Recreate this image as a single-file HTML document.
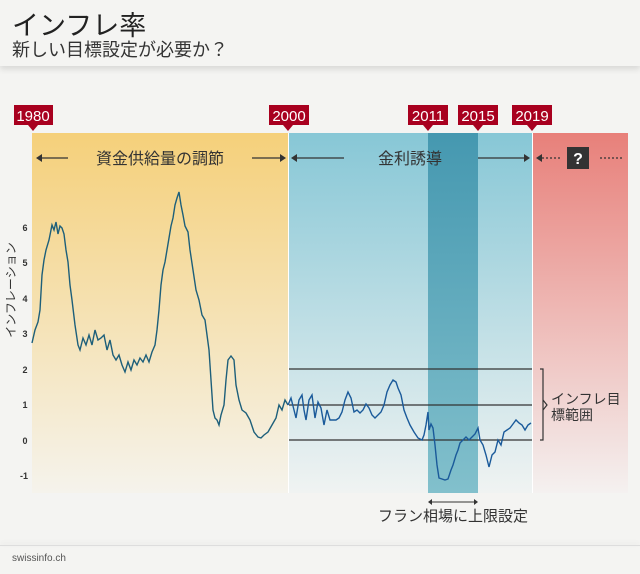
<!DOCTYPE html><html><head><meta charset="utf-8"><style>
body{margin:0;width:640px;height:574px;background:#f4f4f2;font-family:"Liberation Sans","Noto Sans CJK JP",sans-serif;overflow:hidden;position:relative}
.t{position:absolute;color:#333;white-space:nowrap}
</style></head><body>
<div style="position:absolute;left:0;top:0;width:640px;height:66px;background:#f4f4f2;box-shadow:0 3px 6px rgba(0,0,0,0.12)"></div>
<div class="t" style="left:12px;top:4px;font-size:27px;color:#222">インフレ率</div>
<div class="t" style="left:12px;top:36px;font-size:18px;color:#333">新しい目標設定が必要か？</div>
<svg width="640" height="574" style="position:absolute;left:0;top:0">
<defs>
<linearGradient id="gy" x1="0" y1="0" x2="0" y2="1"><stop offset="0" stop-color="#f5d07a"/><stop offset="1" stop-color="#f5f3ec"/></linearGradient>
<linearGradient id="gb" x1="0" y1="0" x2="0" y2="1"><stop offset="0" stop-color="#87c7d6"/><stop offset="1" stop-color="#f0f3f2"/></linearGradient>
<linearGradient id="gd" x1="0" y1="0" x2="0" y2="1"><stop offset="0" stop-color="#4598b0"/><stop offset="1" stop-color="#82c0cc"/></linearGradient>
<linearGradient id="gr" x1="0" y1="0" x2="0" y2="1"><stop offset="0" stop-color="#e8807a"/><stop offset="1" stop-color="#f4f1f0"/></linearGradient>
</defs>
<rect x="32" y="133" width="256" height="360" fill="url(#gy)"/>
<rect x="289" y="133" width="243" height="360" fill="url(#gb)"/>
<rect x="428" y="133" width="50" height="360" fill="url(#gd)"/>
<rect x="533" y="133" width="95" height="360" fill="url(#gr)"/>
<g stroke="#333" stroke-width="1.2">
<line x1="289" y1="369" x2="532" y2="369"/><line x1="289" y1="405" x2="532" y2="405"/><line x1="289" y1="440" x2="532" y2="440"/>
<polyline fill="none" points="540,369 543,369 543,440 540,440"/><polyline fill="none" points="543,400 547,405 543,410"/>
<line x1="38" y1="158" x2="68" y2="158"/><line x1="252" y1="158" x2="284" y2="158"/>
<line x1="294" y1="158" x2="344" y2="158"/><line x1="478" y1="158" x2="528" y2="158"/>
<line x1="538" y1="158" x2="562" y2="158" stroke-dasharray="2,2"/><line x1="600" y1="158" x2="624" y2="158" stroke-dasharray="2,2"/>
<line x1="430" y1="502" x2="476" y2="502" stroke-width="1"/>
</g>
<g fill="#333">
<path d="M36 158l6-4v8z"/><path d="M286 158l-6-4v8z"/><path d="M291 158l6-4v8z"/><path d="M530 158l-6-4v8z"/><path d="M536 158l6-4v8z"/>
<path d="M428 502l4-3v6z"/><path d="M478 502l-4-3v6z"/>
</g>
<line x1="288.5" y1="133" x2="288.5" y2="493" stroke="#fff" stroke-width="1"/>
<line x1="532.5" y1="133" x2="532.5" y2="493" stroke="#fff" stroke-width="1"/>
<polyline fill="none" stroke="#1d5f7a" stroke-width="1.4" points="32,343 35,330 38,322 40,310 42,275 44,260 46,250 49,240 52,225 54,230 56,222 58,234 60,226 62,228 64,234 66,250 68,262 70,285 72,300 75,325 78,345 80,350 83,338 86,345 89,335 92,345 95,330 98,340 101,338 104,335 107,350 110,340 113,355 116,360 119,355 122,365 125,372 128,362 131,370 134,360 137,365 140,358 143,362 146,355 149,362 152,352 155,345 157,330 159,310 161,285 163,270 165,262 167,250 169,238 171,226 173,218 175,205 177,198 179,192 181,205 183,215 185,226 188,232 190,250 193,270 196,290 199,300 202,315 205,320 207,335 209,350 211,380 213,410 215,418 217,420 219,425 221,415 224,405 226,380 228,360 231,356 234,360 236,385 239,400 242,410 246,413 250,420 254,432 258,437 261,438 264,435 268,432 272,425 276,418 279,405 282,410 285,400 288,405"/>
<polyline fill="none" stroke="#1a5a9a" stroke-width="1.4" points="288,405 291,398 294,410 296,418 299,400 302,395 304,410 306,420 309,400 312,395 315,418 318,402 321,408 324,425 327,410 330,420 333,420 336,420 339,418 342,412 345,400 348,392 351,398 354,412 357,410 360,413 363,410 366,404 369,408 372,415 375,418 378,415 381,412 384,405 387,392 390,385 393,380 396,382 398,388 401,395 404,410 407,418 410,425 414,432 418,438 422,440 424,435 426,425 428,412 429,430 431,424 433,428 435,445 437,465 439,478 442,479 445,480 448,479 451,470 453,465 456,455 458,450 460,443 463,440 466,437 469,440 472,437 475,434 478,428 480,440 483,445 486,455 489,467 492,455 495,452 498,440 501,445 504,432 507,430 510,428 513,424 516,420 519,423 522,425 525,430 528,425 531,423"/>
<g fill="#a8001f">
<rect x="14" y="105" width="39" height="20"/><path d="M28 125h10l-5 6z"/>
<rect x="269" y="105" width="40" height="20"/><path d="M283 125h10l-5 6z"/>
<rect x="408" y="105" width="40" height="20"/><path d="M423 125h10l-5 6z"/>
<rect x="458" y="105" width="40" height="20"/><path d="M473 125h10l-5 6z"/>
<rect x="512" y="105" width="40" height="20"/><path d="M527 125h10l-5 6z"/>
</g>
<g fill="#fff" font-size="15" font-family="Liberation Sans,sans-serif" text-anchor="middle">
<text x="33" y="121">1980</text><text x="289" y="121">2000</text><text x="428" y="121">2011</text><text x="478" y="121">2015</text><text x="532" y="121">2019</text>
</g>
<rect x="567" y="147" width="22" height="22" fill="#333"/>
<text x="578" y="164" fill="#fff" font-size="16" font-weight="bold" text-anchor="middle" font-family="Liberation Sans,sans-serif">?</text>
<g fill="#333" font-size="9" font-weight="bold" font-family="Liberation Sans,sans-serif" text-anchor="middle">
<text x="25" y="231">6</text><text x="25" y="266">5</text><text x="25" y="302">4</text><text x="25" y="337">3</text><text x="25" y="373">2</text><text x="25" y="408">1</text><text x="25" y="444">0</text><text x="24" y="479">-1</text>
</g>
<text transform="translate(15,290) rotate(-90)" text-anchor="middle" font-size="12" fill="#333" font-family="Liberation Sans,Noto Sans CJK JP,sans-serif">インフレーション</text>
<text x="160" y="164" text-anchor="middle" font-size="16" fill="#333" font-family="Liberation Sans,Noto Sans CJK JP,sans-serif">資金供給量の調節</text>
<text x="410" y="164" text-anchor="middle" font-size="16" fill="#333" font-family="Liberation Sans,Noto Sans CJK JP,sans-serif">金利誘導</text>
<text x="551" y="404" font-size="14" fill="#333" font-family="Liberation Sans,Noto Sans CJK JP,sans-serif">インフレ目</text>
<text x="551" y="420" font-size="14" fill="#333" font-family="Liberation Sans,Noto Sans CJK JP,sans-serif">標範囲</text>
<text x="453" y="521" text-anchor="middle" font-size="15" fill="#333" font-family="Liberation Sans,Noto Sans CJK JP,sans-serif">フラン相場に上限設定</text>
</svg>
<div style="position:absolute;left:0;top:545px;width:640px;height:1px;background:#ddd;box-shadow:0 -2px 5px rgba(0,0,0,0.1)"></div>
<div class="t" style="left:12px;top:553px;font-size:10px;color:#555">swissinfo.ch</div>
</body></html>
